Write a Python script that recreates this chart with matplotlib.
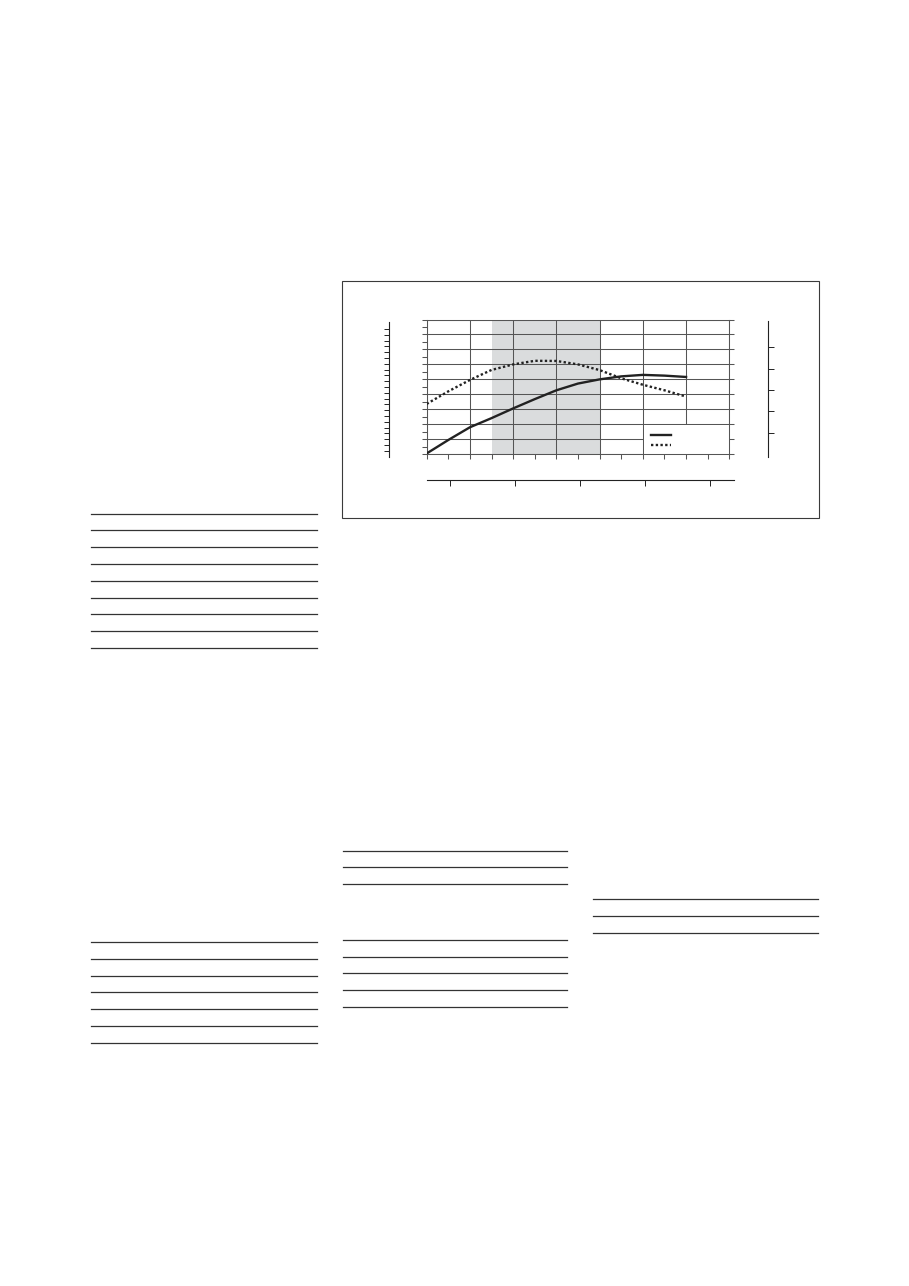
"""
Page with an empty-label curve chart and table rules
"""

import matplotlib
import matplotlib.pyplot as plt
from matplotlib.lines import Line2D
from matplotlib.patches import Rectangle
from matplotlib.ticker import MultipleLocator

matplotlib.use("Agg")

# chart data
x_vals = [0, 0.5, 1, 1.5, 2, 2.5, 3, 3.5, 4, 4.5, 5, 5.5, 6]
curve_solid = [0.05, 0.95, 1.8, 2.41, 3.06, 3.68, 4.27, 4.72, 5.0, 5.2, 5.3, 5.25, 5.16]
curve_dotted = [3.36, 4.2, 4.96, 5.63, 6.0, 6.24, 6.23, 6.0, 5.62, 5.07, 4.64, 4.27, 3.85]
shade_range = (1.5, 4.0)
legend_labels = [" ", " "]

left_scale_ticks = list(range(1, 23))
right_scale_ticks = [1, 2, 3, 4, 5]
bottom_scale_ticks = [1, 2, 3, 4, 5]

# page layout (pixels)
W, H = 909, 1286
INK = "#222222"
GRID = "#555555"
RULE = "#333333"

table_rules = [
    (91, 316.7, [514.3, 530.3, 547.3, 564.3, 581.3, 598.3, 614.3, 631.3, 648.3]),
    (91, 316.7, [942.3, 959.3, 976.3, 992.3, 1009.3, 1026.3, 1043.3]),
    (342.7, 567.3, [851.3, 867.3, 884.3]),
    (342.7, 567.3, [940.3, 957.3, 973.3, 990.3, 1007.3]),
    (593.3, 818.3, [899.3, 916.3, 933.3]),
]


def page_axes(fig, x0, y0, x1, y1):
    """ページ座標(px)で軸を作る"""
    return fig.add_axes([x0 / W, 1 - y1 / H, (x1 - x0) / W, (y1 - y0) / H])


def only_spine(a, side):
    for name, sp in a.spines.items():
        sp.set_visible(name == side)
    a.spines[side].set_color(INK)
    a.spines[side].set_linewidth(0.8)
    a.patch.set_visible(False)


fig = plt.figure(figsize=(W / 100, H / 100), dpi=100)

# outer frame round the chart
fig.add_artist(
    Rectangle(
        (342 / W, 1 - 518 / H),
        (819 - 342) / W,
        (518 - 281) / H,
        transform=fig.transFigure,
        fill=False,
        ec="#3a3a3a",
        lw=0.8,
    )
)

# table rules
for x0, x1, ys in table_rules:
    for y in ys:
        fig.add_artist(
            Line2D([x0 / W, x1 / W], [1 - y / H] * 2, color=RULE, lw=0.9,
                   transform=fig.transFigure)
        )

# main plot
ax = page_axes(fig, 426.7, 319.5, 729.3, 454.2)
ax.set_xlim(0, 7)
ax.set_ylim(0, 9)
ax.xaxis.set_major_locator(MultipleLocator(1))
ax.xaxis.set_minor_locator(MultipleLocator(0.5))
ax.yaxis.set_major_locator(MultipleLocator(1))
ax.yaxis.set_minor_locator(MultipleLocator(0.5))
ax.set_axisbelow(True)
ax.grid(True, which="major", color=GRID, lw=0.75)
ax.axvspan(*shade_range, color="#dadcdd", lw=0, zorder=0.2)
# white patch under the legend hides the grid there
ax.add_patch(Rectangle((5.02, -0.3), 2.5, 2.26, fc="white", ec="none", zorder=0.7))

ax.plot(x_vals, curve_solid, color=INK, lw=1.7, zorder=3)
ax.plot(x_vals, curve_dotted, color=INK, lw=1.7, ls=(0, (1, 1)), zorder=3)

ax.tick_params(which="both", direction="out", labelleft=False, labelbottom=False,
               color=GRID, width=0.75, length=3.5)
ax.tick_params(axis="y", which="major", right=True)
for sp in ax.spines.values():
    sp.set_color(GRID)
    sp.set_linewidth(0.75)

handles = [
    Line2D([], [], color=INK, lw=1.7),
    Line2D([], [], color=INK, lw=1.7, ls=(0, (1, 1))),
]
ax.legend(
    handles,
    legend_labels,
    loc="upper left",
    bbox_to_anchor=(5.2, 1.57),
    bbox_transform=ax.transData,
    frameon=False,
    fontsize=6,
    handlelength=2.3,
    labelspacing=0.2,
    borderpad=0,
    borderaxespad=0,
    handletextpad=0.3,
)

# left extra scale
al = page_axes(fig, 388.5, 321.7, 395, 456.7)
only_spine(al, "left")
al.set_ylim(0, 23.25)
al.set_yticks(left_scale_ticks)
al.set_xticks([])
al.tick_params(axis="y", direction="out", length=3.8, width=0.7, color=INK, labelleft=False)

# right extra scale
ar = page_axes(fig, 760, 320.5, 767.5, 456.7)
only_spine(ar, "right")
ar.set_ylim(-0.12, 6.25)
ar.yaxis.tick_right()
ar.set_yticks(right_scale_ticks)
ar.set_xticks([])
ar.tick_params(axis="y", direction="out", length=4.2, width=0.7, color=INK, labelright=False)

# bottom extra scale
ab = page_axes(fig, 426.7, 474, 734, 480.3)
only_spine(ab, "bottom")
ab.set_xlim(0.64, 5.37)
ab.set_xticks(bottom_scale_ticks)
ab.set_yticks([])
ab.tick_params(axis="x", direction="out", length=4.5, width=0.7, color=INK, labelbottom=False)

fig.savefig("out.png", dpi=100)
plt.close()
